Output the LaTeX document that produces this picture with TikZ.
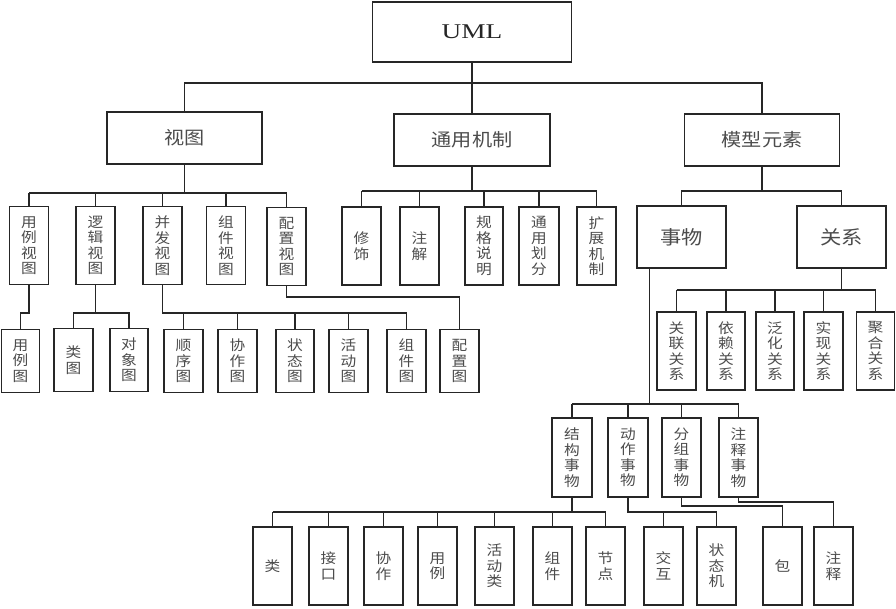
\documentclass[tikz,border=0pt]{standalone}
\usepackage{graphicx}
\usepackage{fontspec}
\setmainfont{Liberation Serif}
\newfontfamily\cjk[FakeStretch=1.12]{Noto Sans CJK SC}
\usetikzlibrary{calc}
\begin{document}
\begin{tikzpicture}[x=1pt,y=-1pt,
  box/.style={draw=black!85, line width=1.3pt, inner sep=0pt, align=center, text=black!70,
    font=\cjk\fontsize{14}{15.5}\selectfont},
  big/.style={box, font=\cjk\fontsize{18}{20}\selectfont},
  sz/.style 2 args={minimum width=#1pt, minimum height=#2pt},
  wire/.style={draw=black!85, line width=1.2pt}]
\useasboundingbox (0,0) rectangle (896,608);
% top
\node[box, text=black!85, font=\fontsize{21}{21}\selectfont, sz={199}{60}] (uml) at (472,32) {\scalebox{1.3}[1]{UML}};
% level 1
\node[big, sz={155}{52}] (views) at (184.5,138) {视图};
\node[big, sz={156}{52}] (mech) at (472,140) {通用机制};
\node[big, sz={155}{52}] (model) at (762,140) {模型元素};
% views level 2
\node[box, sz={39}{78}] (v1) at (29,245.5) {用\\例\\视\\图};
\node[box, sz={39}{78}] (v2) at (95.5,245.5) {逻\\辑\\视\\图};
\node[box, sz={39}{78}] (v3) at (162.5,245.5) {并\\发\\视\\图};
\node[box, sz={39}{78}] (v4) at (226,245.5) {组\\件\\视\\图};
\node[box, sz={39}{78}] (v5) at (286.5,246.5) {配\\置\\视\\图};
% mechanisms
\node[box, sz={39}{78}] (m1) at (361.5,246) {修\\饰};
\node[box, sz={39}{78}] (m2) at (419.5,246) {注\\解};
\node[box, sz={38}{78}] (m3) at (484,246) {规\\格\\说\\明};
\node[box, sz={40}{78}] (m4) at (539,246) {通\\用\\划\\分};
\node[box, sz={39}{78}] (m5) at (596.5,246) {扩\\展\\机\\制};
% model elements
\node[big, font=\cjk\fontsize{19}{20}\selectfont, sz={89}{62}] (things) at (681.5,237) {事物};
\node[big, font=\cjk\fontsize{19}{20}\selectfont, sz={89}{62}] (rel) at (841.5,237) {关系};
% relations
\node[box, sz={39}{78}] (r1) at (676.5,351) {关\\联\\关\\系};
\node[box, sz={38}{78}] (r2) at (726,351) {依\\赖\\关\\系};
\node[box, sz={38}{78}] (r3) at (775,351) {泛\\化\\关\\系};
\node[box, sz={39}{78}] (r4) at (823.5,351) {实\\现\\关\\系};
\node[box, sz={38}{78}] (r5) at (875.5,351) {聚\\合\\关\\系};
% views level 3
\node[box, sz={38}{63}] (d1) at (20.5,361) {用\\例\\图};
\node[box, sz={39}{63}] (d2) at (73.5,360) {类\\图};
\node[box, sz={38}{63}] (d3) at (129,360) {对\\象\\图};
\node[box, sz={39}{63}] (d4) at (183.5,361) {顺\\序\\图};
\node[box, sz={39}{63}] (d5) at (237.5,361) {协\\作\\图};
\node[box, sz={38}{63}] (d6) at (295,361) {状\\态\\图};
\node[box, sz={39}{63}] (d7) at (348.5,361) {活\\动\\图};
\node[box, sz={39}{63}] (d8) at (406.5,361) {组\\件\\图};
\node[box, sz={39}{63}] (d9) at (459.5,361) {配\\置\\图};
% things
\node[box, sz={40}{79}] (t1) at (572,457.5) {结\\构\\事\\物};
\node[box, sz={40}{79}] (t2) at (628,457.5) {动\\作\\事\\物};
\node[box, sz={39}{79}] (t3) at (681.5,457.5) {分\\组\\事\\物};
\node[box, sz={39}{79}] (t4) at (738.5,457.5) {注\\释\\事\\物};
% level 4
\node[box, sz={39}{78}] (k1) at (272.5,566) {类};
\node[box, sz={39}{78}] (k2) at (328.5,566) {接\\口};
\node[box, sz={39}{78}] (k3) at (383.5,566) {协\\作};
\node[box, sz={39}{78}] (k4) at (437.5,566) {用\\例};
\node[box, sz={39}{78}] (k5) at (494.5,566) {活\\动\\类};
\node[box, sz={39}{78}] (k6) at (552.5,566) {组\\件};
\node[box, sz={39}{78}] (k7) at (605.5,566) {节\\点};
\node[box, sz={39}{78}] (k8) at (663.5,566) {交\\互};
\node[box, sz={39}{78}] (k9) at (716.5,566) {状\\态\\机};
\node[box, sz={39}{78}] (k10) at (782.5,566) {包};
\node[box, sz={39}{78}] (k11) at (833.5,566) {注\\释};
% bus levels
\coordinate (yA) at (0,83);
\coordinate (yV) at (0,193);
\coordinate (yM) at (0,191);
\coordinate (yR) at (0,290);
\coordinate (yL) at (0,313);
\coordinate (yC) at (0,297);
\coordinate (yT) at (0,404);
\coordinate (yS) at (0,512);
\coordinate (yG) at (0,506);
\coordinate (yN) at (0,502);
% connectors
\draw[wire] (uml.south) -- (uml.south |- yA);
\draw[wire] (views.north) -- (views.north |- yA) -- (model.north |- yA) -- (model.north);
\draw[wire] (mech.north) -- (mech.north |- yA);
% views
\draw[wire] (views.south) -- (views.south |- yV);
\draw[wire] (v1.north |- yV) -- (v5.north |- yV);
\foreach \n in {v1,v2,v3,v4,v5} \draw[wire] (\n.north) -- (\n.north |- yV);
% mechanisms
\draw[wire] (mech.south) -- (mech.south |- yM);
\draw[wire] (m1.north |- yM) -- (m5.north |- yM);
\foreach \n in {m1,m2,m3,m4,m5} \draw[wire] (\n.north) -- (\n.north |- yM);
% model
\draw[wire] (model.south) -- (model.south |- yM);
\draw[wire] (things.north) -- (things.north |- yM) -- (rel.north |- yM) -- (rel.north);
% relations
\draw[wire] (rel.south) -- (rel.south |- yR);
\draw[wire] (r1.north |- yR) -- (r5.north |- yR);
\foreach \n in {r1,r2,r3,r4,r5} \draw[wire] (\n.north) -- (\n.north |- yR);
% view children
\draw[wire] (v1.south) -- (v1.south |- yL) -| (d1.north);
\draw[wire] (v2.south) -- (v2.south |- yL);
\draw[wire] (d2.north) |- (d3.north |- yL) -- (d3.north);
\draw[wire] (v3.south) -- (v3.south |- yL) -- (d8.north |- yL) -- (d8.north);
\foreach \n in {d4,d5,d6,d7} \draw[wire] (\n.north) -- (\n.north |- yL);
\draw[wire] (v5.south) -- (v5.south |- yC) -| (d9.north);
% things
\draw[wire] ($(things.south west)+(13,0)$) coordinate (tt) -- (tt |- yT);
\draw[wire] (t1.north |- yT) -- (t4.north |- yT);
\foreach \n in {t1,t2,t3,t4} \draw[wire] (\n.north) -- (\n.north |- yT);
% structural
\draw[wire] (t1.south) -- (t1.south |- yS);
\draw[wire] (k1.north |- yS) -- (k7.north |- yS);
\foreach \n in {k1,k2,k3,k4,k5,k6,k7} \draw[wire] (\n.north) -- (\n.north |- yS);
% behavioural
\draw[wire] (t2.south) -- (t2.south |- yS) -- (k9.north |- yS) -- (k9.north);
\draw[wire] (k8.north) -- (k8.north |- yS);
% grouping
\draw[wire] (t3.south) -- (t3.south |- yG) -| (k10.north);
% annotation
\draw[wire] (t4.south) -- (t4.south |- yN) -| (k11.north);
\end{tikzpicture}
\end{document}
